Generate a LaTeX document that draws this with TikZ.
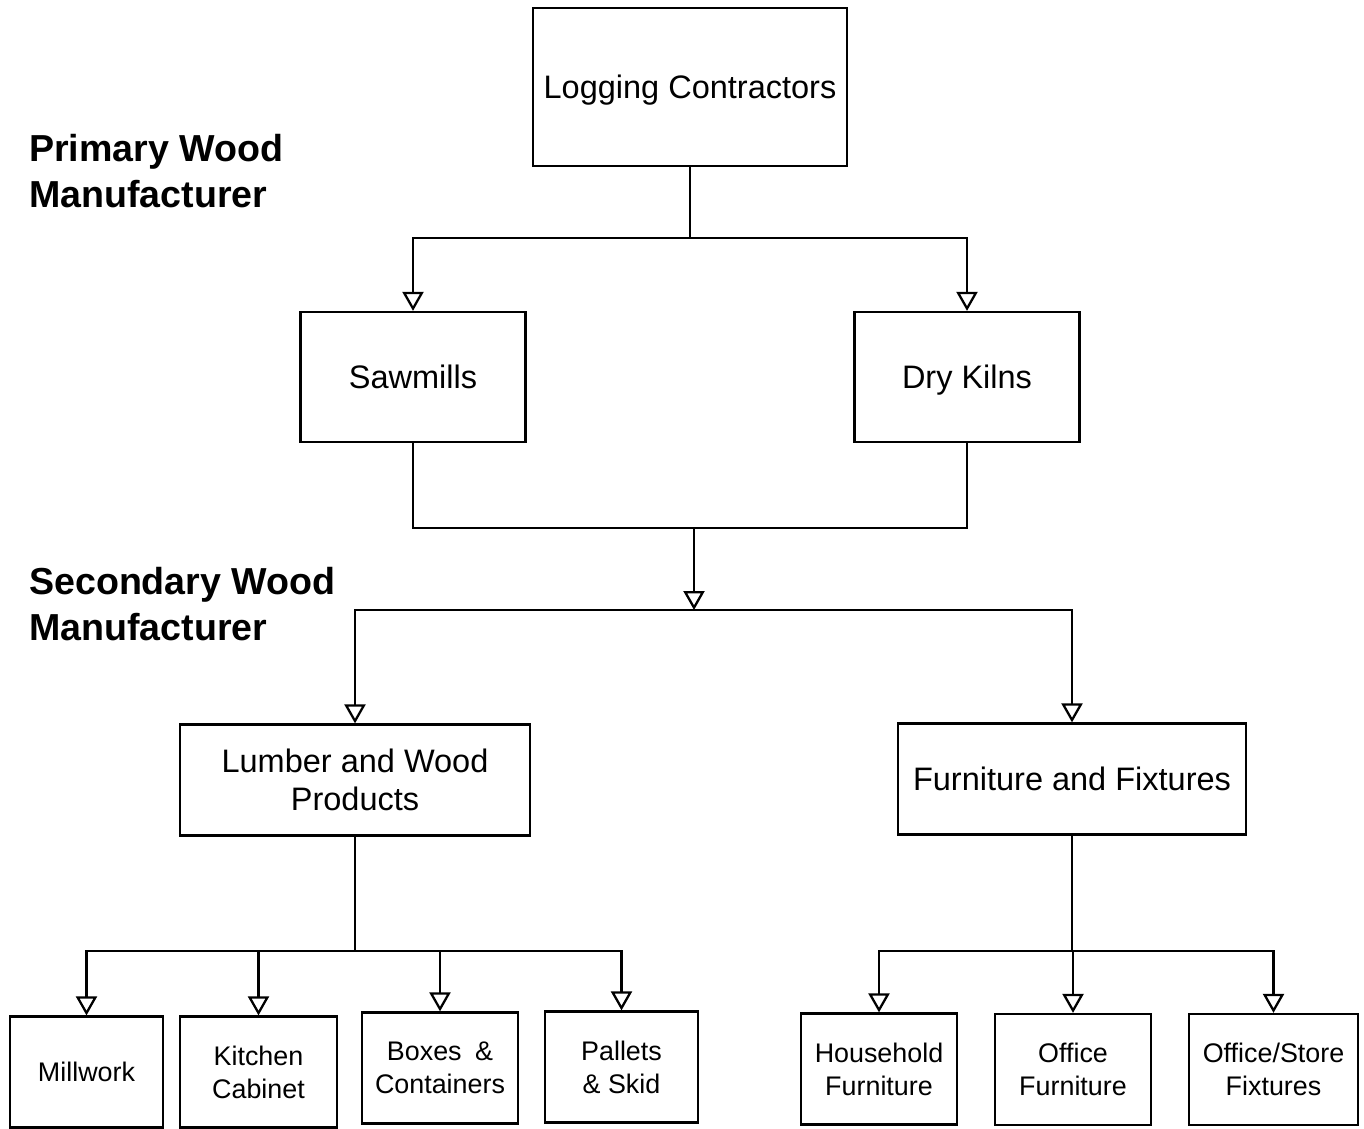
\documentclass[tikz,border=0pt]{standalone}
\usepackage{fontspec}
\setmainfont{Liberation Sans}
\usetikzlibrary{arrows.meta}

\begin{document}
\begin{tikzpicture}[x=0.02cm, y=-0.02cm, line width=1.3pt]
    \tikzset{box/.style={
      draw, rectangle, align=center, inner sep=0pt,
      font=\fontsize{18.5}{22}\selectfont}}
    \tikzset{smallbox/.style={box, minimum height=2.22cm,
      font=\fontsize{15.3}{18.7}\selectfont}}
    \tikzset{tier/.style={align=left, inner sep=0pt, anchor=west,
      font=\bfseries\fontsize{21.4}{26}\selectfont}}
    \tikzset{flow/.style={-{Triangle[open, width=0.42cm, length=0.38cm]}}}

    \useasboundingbox (0, 0) rectangle (1364, 1128);

    % Tiers
    \node [tier] (primary) at (28, 171) {Primary Wood\\Manufacturer};
    \node [tier] (secondary) at (28, 604) {Secondary Wood\\Manufacturer};

    % Primary
    \node [box, minimum width=6.28cm, minimum height=3.16cm, text depth=0pt]
          (logging) at (690, 87) {Logging Contractors};
    \node [box, minimum width=4.5cm, minimum height=2.6cm]
          (sawmills) at (413, 377) {Sawmills};
    \node [box, minimum width=4.5cm, minimum height=2.6cm, text depth=0pt]
          (kilns) at (967, 377) {Dry Kilns};

    % Secondary
    \node [box, minimum width=7cm, minimum height=2.22cm]
          (lumber) at (355, 780) {Lumber and Wood\\Products};
    \node [box, minimum width=6.96cm, minimum height=2.22cm]
          (furniture) at (1072, 779) {Furniture and Fixtures};

    \foreach \x/\y/\w/\n/\l in {86.5/1072/3.06/millwork/Millwork,%
                                258.5/1072/3.14/kitchen/{Kitchen\\Cabinet},%
                                440/1068/3.12/boxes/{Boxes\enspace\&\\Containers},%
                                621.5/1067/3.06/pallets/{Pallets\\\& Skid},%
                                879/1069/3.12/household/{Household\\Furniture},%
                                1073/1069.5/3.12/office/{Office\\Furniture},%
                                1273.5/1069.5/3.38/store/{Office/Store\\Fixtures}%
                                } {
      \node [smallbox, minimum width=\w cm] (\n) at (\x, \y) {\l};
    }

    % Anchors for the splits
    \coordinate (split) at (690, 238);
    \coordinate (merge) at (694, 528);
    \coordinate (branch) at (694, 610);
    \coordinate (lumbersplit) at (355, 951);
    \coordinate (furnsplit) at (1072, 951);

    % Edges
    \draw (logging) -- (split);
    \draw [flow] (split) -| (sawmills);
    \draw [flow] (split) -| (kilns);
    \draw (sawmills) |- (merge) -| (kilns);
    \draw [flow] (merge) -- (branch);
    \draw [flow] (branch) -| (lumber);
    \draw [flow] (branch) -| (furniture);
    \draw (lumber) -- (lumbersplit);
    \foreach \n in {millwork, kitchen, boxes, pallets}
      \draw [flow] (lumbersplit) -| (\n);
    \draw (furniture) -- (furnsplit);
    \foreach \n in {household, office, store}
      \draw [flow] (furnsplit) -| (\n);
\end{tikzpicture}
\end{document}
